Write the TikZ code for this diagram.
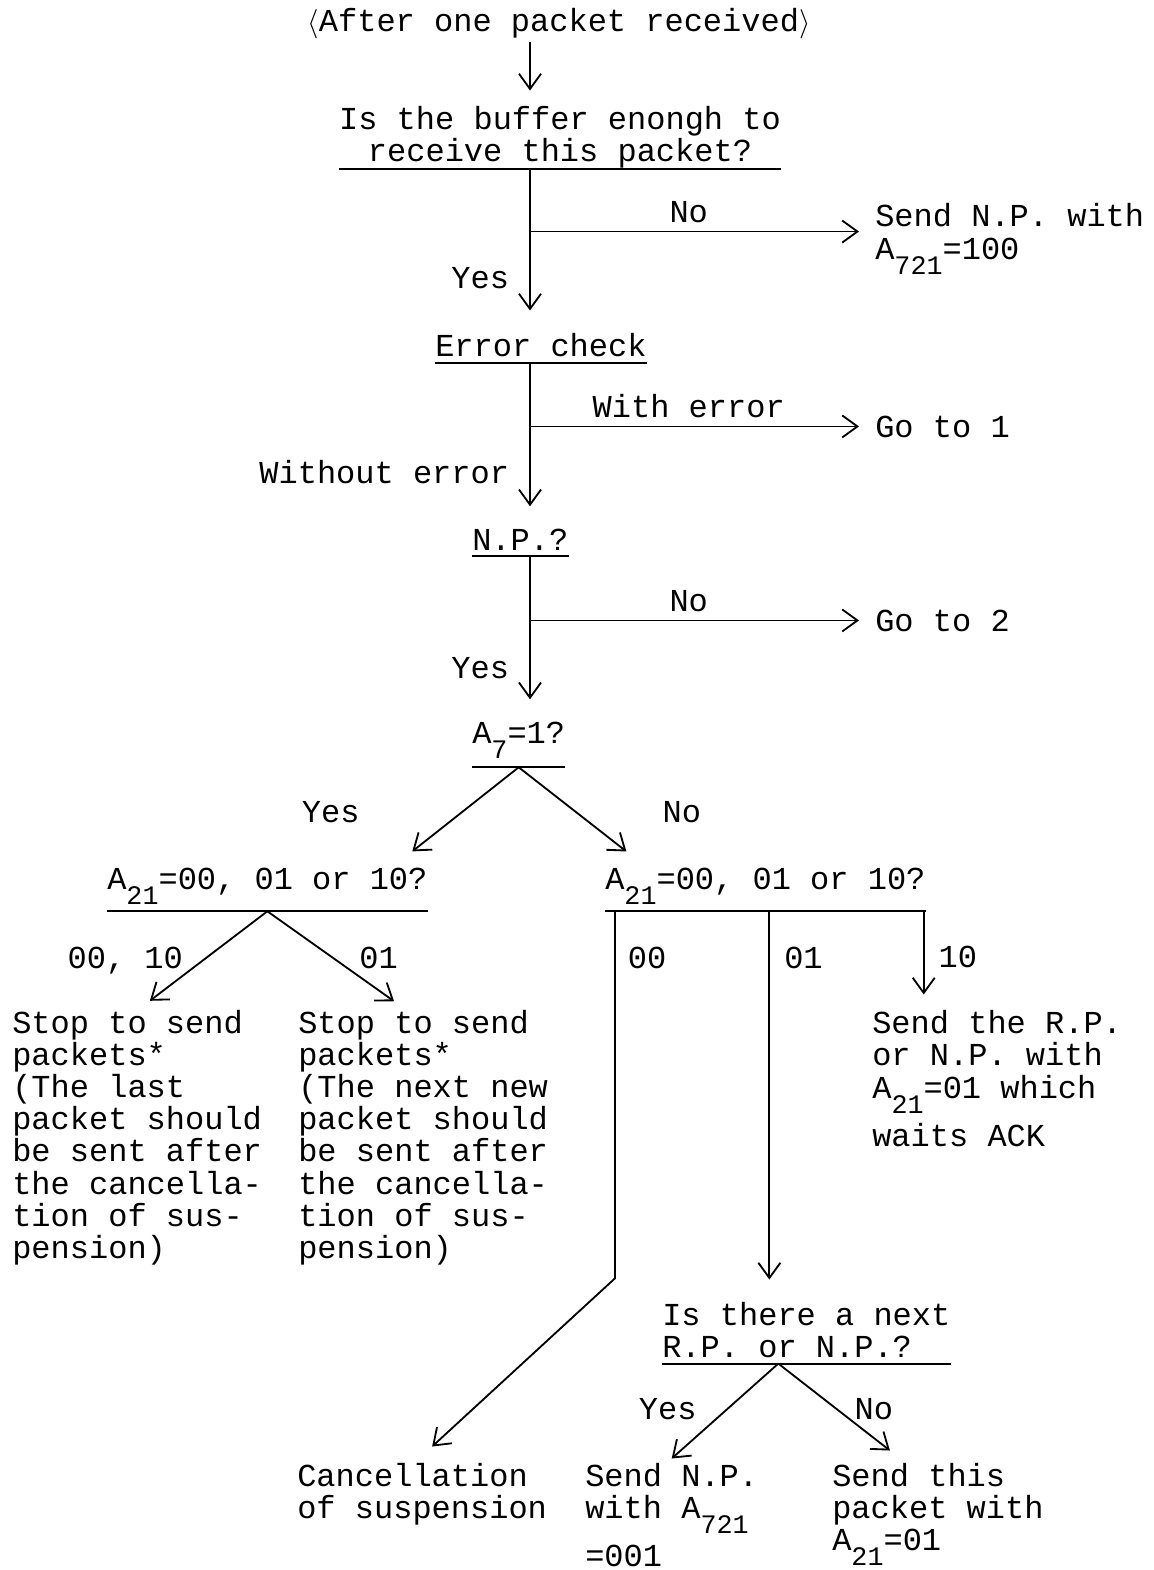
\documentclass[tikz,border=0pt]{standalone}
\usepackage{fontspec}
\setmainfont{Liberation Mono}
\usetikzlibrary{arrows.meta}
\newcommand\typew{\fontsize{22.76pt}{22.76pt}\selectfont}
\newcommand\low[1]{\raisebox{-11pt}[0pt][0pt]{\fontsize{19pt}{19pt}\selectfont #1}}
\tikzset{
  ask/.style    ={inner xsep=0pt, inner ysep=0.15cm, anchor=base west},
  txt/.style    ={inner sep=0pt, align=left, anchor=base west},
  lbl/.style    ={inner sep=0pt},
  flow/.style   ={-{Straight Barb[length=0.38cm, width=0.55cm]}, line width=1.3pt},
  uline/.style  ={line width=1.3pt},
  endgap/.style ={shorten >=0.4cm},
}

\begin{document}
\begin{tikzpicture}[x=0.025cm, y=-0.025cm, every node/.style={font=\typew}]
  \useasboundingbox (0,0) rectangle (1154,1570);
  \coordinate (spine) at (530,0);

  % questions (underlined); multi-line nodes sit on their last line
  \node[txt, anchor=base] (start) at (559,32) {$\langle$After one packet received$\rangle$};
  \node[ask, align=center, anchor=base, inner ysep=0pt] (q1) at (560,162) {Is the buffer enongh to\\receive this packet?};
  \node[ask] (ec) at (435,356) {Error check};
  \node[ask] (np) at (472,550) {N.P.?};
  \node[ask, text depth=0.45cm] (a7) at (472,743) {A\low{7}=1?};
  \node[ask, text depth=0.4cm] (qL) at (107,889) {A\low{21}=00, 01 or 10?};
  \node[ask, text depth=0.4cm] (qR) at (605,889) {A\low{21}=00, 01 or 10?};
  \node[ask, align=left] (q2) at (662,1357) {Is there a next\\R.P. or N.P.?};

  % outcomes
  \node[txt] (np1) at (875,259) {Send N.P. with\\A\low{721}=100};
  \node[txt] (go1) at (875,437) {Go to 1};
  \node[txt] (go2) at (875,631) {Go to 2};
  \node[txt] (stopL) at (12,1258) {Stop to send\\packets*\\(The last\\packet should\\be sent after\\the cancella-\\tion of sus-\\pension)};
  \node[txt] (stopR) at (298,1258) {Stop to send\\packets*\\(The next new\\packet should\\be sent after\\the cancella-\\tion of sus-\\pension)};
  \node[txt] (sendR) at (872,1146) {Send the R.P.\\or N.P. with\\A\low{21}=01 which\\[0.4cm]waits ACK};
  \node[txt] (cancel) at (297,1518) {Cancellation\\of suspension};
  \node[txt] (sendNP) at (585,1566) {Send N.P.\\with A\low{721}\\[0.4cm]=001};
  \node[txt] (sendThis) at (832,1550) {Send this\\packet with\\A\low{21}=01};

  \foreach \q in {q1, ec, np, a7, qL, qR, q2}
    \draw[uline] (\q.south west) -- (\q.south east);

  % main line
  \draw[flow, endgap] ([yshift=-0.05cm]start.south -| spine) -- (q1.north -| spine);
  \draw[flow, endgap] (q1.south -| spine) -- node[lbl, pos=.76, anchor=base east, xshift=-0.5cm]{Yes} (ec.north -| spine);
  \draw[flow, endgap] (np1.west -| spine) -- node[lbl, pos=.46, above=0.2cm]{No} (np1.west);
  \draw[flow, endgap] (ec.south -| spine) -- node[lbl, pos=.76, anchor=base east, xshift=-0.5cm]{Without error} (np.north -| spine);
  \draw[flow, endgap] (go1.west -| spine) -- node[lbl, pos=.46, above=0.2cm]{With error} (go1.west);
  \draw[flow, endgap] (np.south -| spine) -- node[lbl, pos=.77, anchor=base east, xshift=-0.5cm]{Yes} (a7.north -| spine);
  \draw[flow, endgap] (go2.west -| spine) -- node[lbl, pos=.46, above=0.2cm]{No} (go2.west);

  % A7 split
  \draw[flow, endgap] (a7.south) -- node[lbl, pos=.59, anchor=base east, xshift=-2.2cm]{Yes} ([xshift=-0.7cm]qL.north east);
  \draw[flow, endgap] (a7.south) -- node[lbl, pos=.59, anchor=base west, xshift=1.8cm]{No} ([xshift=0.85cm]qR.north west);

  % left branch
  \draw[flow, endgap] (qL.south) -- node[lbl, pos=.58, anchor=base east, xshift=-0.2cm]{00, 10} (stopL.north);
  \draw[flow, endgap] (qL.south) -- node[lbl, pos=.58, anchor=base west, xshift=0.25cm]{01} ([xshift=-0.4cm]stopR.north);

  % right branch
  \coordinate (legL) at ([xshift=0.25cm]qR.south west);
  \coordinate (legM) at ([xshift=0.1cm]qR.south);
  \coordinate (legR) at ([xshift=-0.05cm]qR.south east);
  \draw[flow] (legL) -- node[lbl, pos=.155, anchor=base west, xshift=0.3cm]{00} ++(0,367)
    -- ([xshift=0.25cm, yshift=0.4cm]cancel.north);
  \draw[flow, endgap] (legM) -- node[lbl, pos=.148, anchor=base west, xshift=0.35cm]{01} (legM |- q2.north);
  \draw[flow, endgap] (legR) -- node[lbl, pos=.57, anchor=base west, xshift=0.35cm]{10} (legR |- sendR.north);

  % next packet
  \coordinate (q2s) at ([xshift=-0.7cm]q2.south);
  \draw[flow] (q2s) -- node[lbl, pos=.59, anchor=base east, xshift=-0.45cm]{Yes} ([yshift=0.1cm]sendNP.north);
  \draw[flow] (q2s) -- node[lbl, pos=.64, anchor=base west, xshift=0.1cm]{No} ([xshift=-1.2cm, yshift=0.3cm]sendThis.north);
\end{tikzpicture}
\end{document}
